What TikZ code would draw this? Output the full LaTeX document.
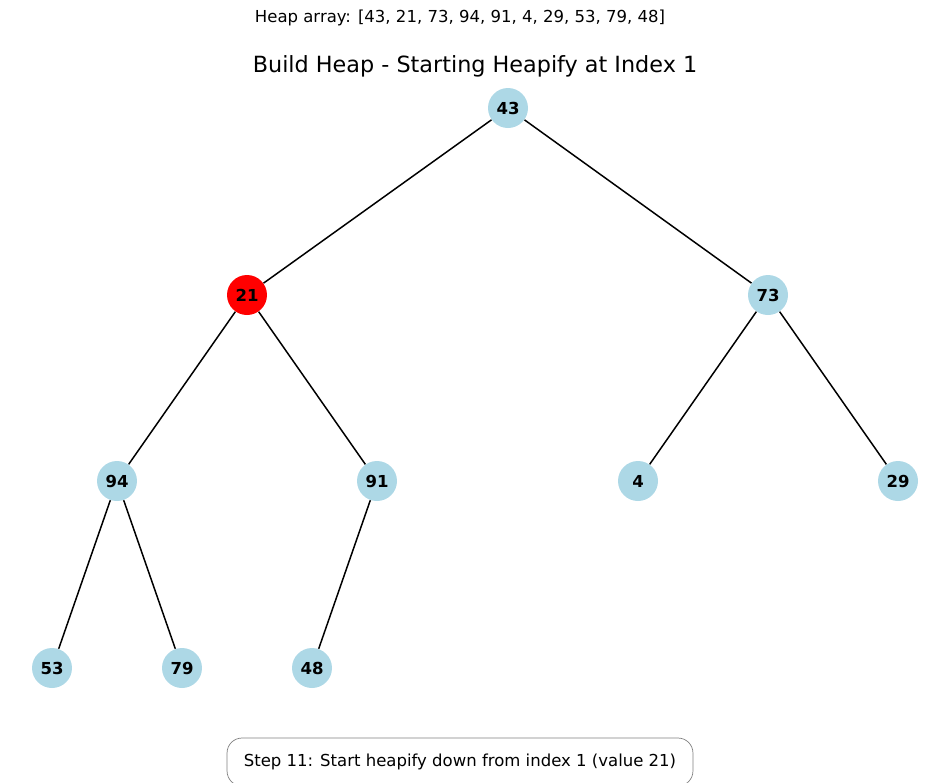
\documentclass[tikz,border=0pt]{standalone}
\usepackage{fontspec}
\setmainfont{DejaVu Sans}
\usetikzlibrary{positioning}
\definecolor{heapblue}{RGB}{173, 216, 230}
\definecolor{activered}{RGB}{255, 0, 0}

\begin{document}
\begin{tikzpicture}[
    x=0.02cm, y=-0.02cm,
    heapnode/.style={circle, fill=heapblue, minimum size=0.8cm, inner sep=0pt, font=\fontsize{9.4}{11}\selectfont\bfseries},
    active/.style={heapnode, fill=activered},
    edge/.style={line width=0.85pt},
    stepbox/.style={draw=gray, rounded corners=0.3cm, minimum width=9.32cm, minimum height=0.96cm, font=\fontsize{9.4}{11}\selectfont}
]
    \useasboundingbox (0,0) rectangle (950,782);

    \node[font=\fontsize{9.4}{11}\selectfont] (array) at (460,18) {Heap array: [43, 21, 73, 94, 91, 4, 29, 53, 79, 48]};
    \node[font=\fontsize{12.7}{15}\selectfont] (title) at (475,66) {Build Heap - Starting Heapify at Index 1};

    \node[heapnode] (n0) at (508,108) {43};
    \node[active] (n1) at (247,295) {21};
    \node[heapnode] (n2) at (768,295) {73};
    \node[heapnode] (n3) at (117,481) {94};
    \node[heapnode] (n4) at (377,481) {91};
    \node[heapnode] (n5) at (638,481) {4};
    \node[heapnode] (n6) at (898,481) {29};
    \node[heapnode] (n7) at (52,668) {53};
    \node[heapnode] (n8) at (182,668) {79};
    \node[heapnode] (n9) at (312,668) {48};

    \draw[edge] (n0) -- (n1);
    \draw[edge] (n0) -- (n2);
    \draw[edge] (n1) -- (n3);
    \draw[edge] (n1) -- (n4);
    \draw[edge] (n2) -- (n5);
    \draw[edge] (n2) -- (n6);
    \draw[edge] (n3) -- (n7);
    \draw[edge] (n3) -- (n8);
    \draw[edge] (n4) -- (n9);

    \node[stepbox] (step) at (460,762) {Step 11: Start heapify down from index 1 (value 21)};
\end{tikzpicture}
\end{document}
